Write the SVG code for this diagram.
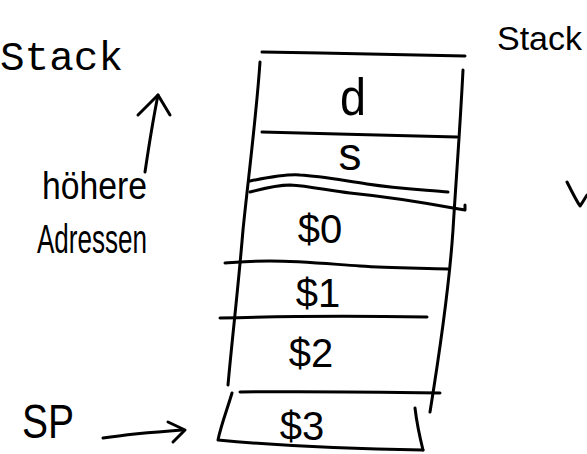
<svg xmlns="http://www.w3.org/2000/svg" width="587" height="454" viewBox="0 0 587 454">
  <style>
    .ink { fill: none; stroke: #000; stroke-width: 3; stroke-linecap: round; stroke-linejoin: round; }
    .hand { font-family: "Liberation Sans", "DejaVu Sans", sans-serif; fill: #000; }
    .mono { font-family: "Liberation Mono", "Courier New", monospace; fill: #000; }
  </style>
  <rect width="587" height="454" fill="#fff"/>

  <!-- Title -->
  <g id="title">
    <text class="mono" x="0" y="70" font-size="41">Stack</text>
  </g>

  <!-- Frame of the stack -->
  <g id="stack-frame">
    <path class="ink" d="M262,52 C330,53 400,55 465,56"/>
    <path class="ink" d="M260,62 C256,120 248,180 243,230 C238,290 232,340 228,385"/>
    <path class="ink" d="M463,70 C460,130 456,180 453,230 C449,290 440,350 430,412"/>
    <path class="ink" d="M232,393 C227,410 221,425 218,440 C280,446 350,449 423,450"/>
    <path class="ink" d="M415,408 C417,425 420,438 423,450"/>
  </g>

  <!-- Stack cells -->
  <g id="cell-d">
    <text class="hand" x="353" y="115" font-size="52" text-anchor="middle" textLength="26" lengthAdjust="spacingAndGlyphs">d</text>
    <path class="ink" d="M262,132 C320,134 400,135 457,137"/>
  </g>
  <g id="cell-s">
    <text class="hand" x="350" y="170" font-size="46" text-anchor="middle">s</text>
    <path class="ink" d="M250,181 C270,177 290,174 300,175 C320,176 340,180 367,184 C400,189 430,190 448,192"/>
    <path class="ink" d="M250,192 C265,188 280,185 290,185 C310,186 330,191 350,193 C390,197 420,202 453,208 L465,210 L465,205"/>
  </g>
  <g id="cell-0">
    <text class="hand" x="320" y="243" font-size="40" text-anchor="middle">$0</text>
    <path class="ink" d="M225,263 C240,262 250,261 270,261 C300,261 330,264 360,266 C390,268 420,268 448,269"/>
  </g>
  <g id="cell-1">
    <text class="hand" x="318" y="307" font-size="40" text-anchor="middle">$1</text>
    <path class="ink" d="M220,318 C290,316 360,316 427,317"/>
  </g>
  <g id="cell-2">
    <text class="hand" x="311" y="367" font-size="40" text-anchor="middle">$2</text>
    <path class="ink" d="M240,392 C310,391 380,392 440,393"/>
  </g>
  <g id="cell-3">
    <text class="hand" x="302" y="440" font-size="40" text-anchor="middle">$3</text>
  </g>

  <!-- Side labels -->
  <g id="label-addresses">
    <text class="hand" x="42" y="199" font-size="38" textLength="105" lengthAdjust="spacingAndGlyphs">höhere</text>
    <text class="hand" x="37" y="253" font-size="40" textLength="110" lengthAdjust="spacingAndGlyphs">Adressen</text>
  </g>
  <g id="label-sp">
    <text class="hand" x="22" y="438" font-size="48" textLength="52" lengthAdjust="spacingAndGlyphs">SP</text>
  </g>
  <g id="label-stack-note">
    <text class="hand" x="497" y="50" font-size="34">Stack</text>
    <path class="ink" d="M567,182 C572,192 576,200 580,206 C583,202 585,198 587,195"/>
  </g>

  <!-- Arrows -->
  <g id="connectors">
    <path class="ink" d="M145,172 C149,145 153,120 158,95"/>
    <path class="ink" d="M138,115 L158,95 L170,115"/>
    <path class="ink" d="M103,438 C130,434 155,432 182,430"/>
    <path class="ink" d="M168,422 L185,430 L173,442"/>
  </g>
</svg>
